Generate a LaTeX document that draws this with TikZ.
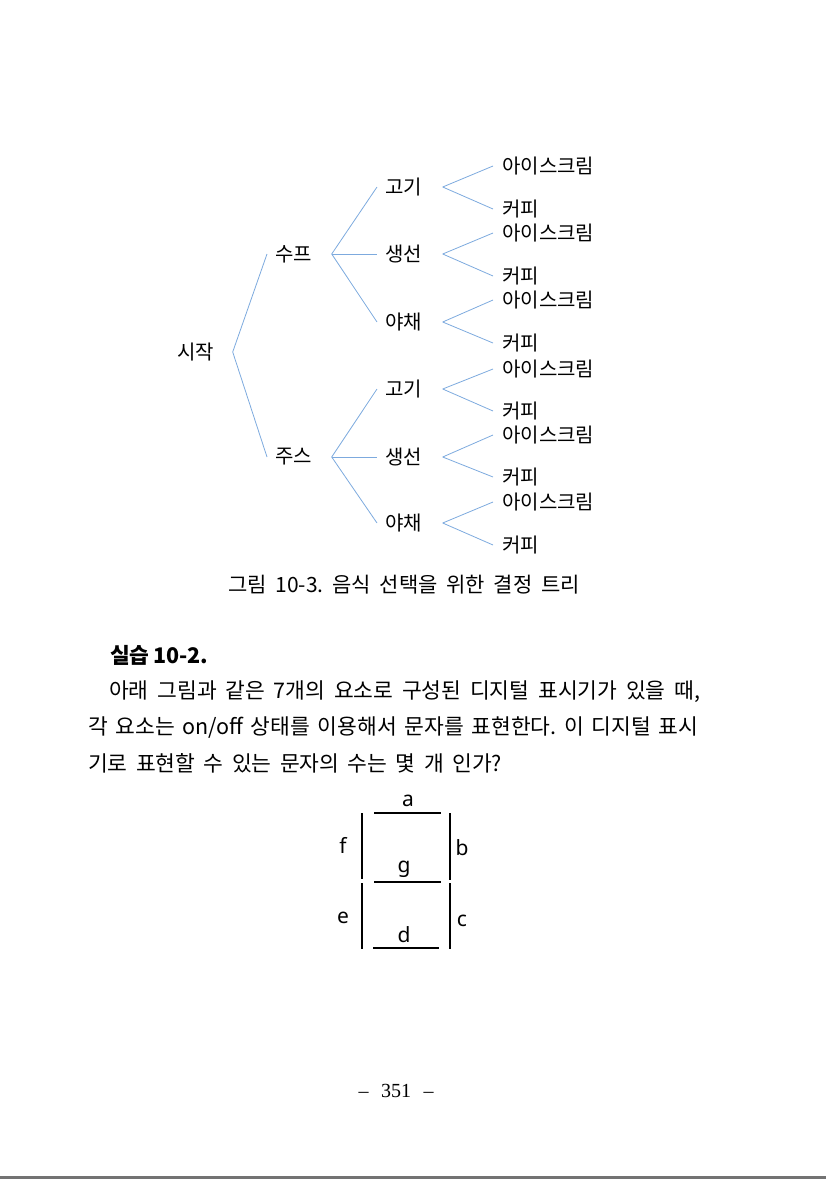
\documentclass[tikz,border=0pt]{standalone}
\usepackage{fontspec}
\setmainfont{Noto Sans CJK KR}
\newfontfamily\numfont{Liberation Serif}
\newfontfamily\segfont{Noto Sans}
\usetikzlibrary{positioning}
\definecolor{branch}{RGB}{125,170,222}
\frenchspacing

\begin{document}
\begin{tikzpicture}[x=1pt, y=-1pt,
    word/.style={inner sep=0pt, anchor=west, font=\fontsize{20}{24}\selectfont},
    twig/.style={draw=branch, line width=0.8pt},
    line/.style={inner sep=0pt, anchor=west, font=\fontsize{21.5}{26}\selectfont},
    seg/.style={line width=2.8pt},
    letter/.style={inner sep=0pt, anchor=base, font=\segfont\fontsize{21}{25}\selectfont}]
    \useasboundingbox (0,0) rectangle (826,1179);
    % Add the tree words
        \node[word] (start) at (177,352) {시작};
        \node[word] (soup) at (275,254) {수프};
        \node[word] (juice) at (275,457) {주스};
        \node[word] (m1) at (385,187) {고기};
        \node[word] (f1) at (385,254) {생선};
        \node[word] (v1) at (385,322) {야채};
        \node[word] (m2) at (385,389) {고기};
        \node[word] (f2) at (385,457) {생선};
        \node[word] (v2) at (385,523) {야채};
        \node[word] (im1) at (502,166) {아이스크림};
        \node[word] (cm1) at (502,209) {커피};
        \node[word] (if1) at (502,233) {아이스크림};
        \node[word] (cf1) at (502,276) {커피};
        \node[word] (iv1) at (502,300) {아이스크림};
        \node[word] (cv1) at (502,343) {커피};
        \node[word] (im2) at (502,369) {아이스크림};
        \node[word] (cm2) at (502,411) {커피};
        \node[word] (if2) at (502,435) {아이스크림};
        \node[word] (cf2) at (502,477) {커피};
        \node[word] (iv2) at (502,502) {아이스크림};
        \node[word] (cv2) at (502,545) {커피};

    % Add the branches
        \draw[twig] ([xshift=18.5pt]start.east) -- ([xshift=-8pt]soup.west);
        \draw[twig] ([xshift=18.5pt]start.east) -- ([xshift=-8pt]juice.west);
        \draw[twig] ([xshift=19.5pt]soup.east) -- ([xshift=-8pt]m1.west);
        \draw[twig] ([xshift=19.5pt]soup.east) -- ([xshift=-8pt]f1.west);
        \draw[twig] ([xshift=19.5pt]soup.east) -- ([xshift=-8pt]v1.west);
        \draw[twig] ([xshift=19.5pt]juice.east) -- ([xshift=-8pt]m2.west);
        \draw[twig] ([xshift=19.5pt]juice.east) -- ([xshift=-8pt]f2.west);
        \draw[twig] ([xshift=19.5pt]juice.east) -- ([xshift=-8pt]v2.west);
        \draw[twig] ([xshift=20.5pt]m1.east) -- ([xshift=-9pt]im1.west);
        \draw[twig] ([xshift=20.5pt]m1.east) -- ([xshift=-9pt]cm1.west);
        \draw[twig] ([xshift=20.5pt]f1.east) -- ([xshift=-9pt]if1.west);
        \draw[twig] ([xshift=20.5pt]f1.east) -- ([xshift=-9pt]cf1.west);
        \draw[twig] ([xshift=20.5pt]v1.east) -- ([xshift=-9pt]iv1.west);
        \draw[twig] ([xshift=20.5pt]v1.east) -- ([xshift=-9pt]cv1.west);
        \draw[twig] ([xshift=20.5pt]m2.east) -- ([xshift=-9pt]im2.west);
        \draw[twig] ([xshift=20.5pt]m2.east) -- ([xshift=-9pt]cm2.west);
        \draw[twig] ([xshift=20.5pt]f2.east) -- ([xshift=-9pt]if2.west);
        \draw[twig] ([xshift=20.5pt]f2.east) -- ([xshift=-9pt]cf2.west);
        \draw[twig] ([xshift=20.5pt]v2.east) -- ([xshift=-9pt]iv2.west);
        \draw[twig] ([xshift=20.5pt]v2.east) -- ([xshift=-9pt]cv2.west);

    % Caption and exercise text
        \node[inner sep=0pt, font=\fontsize{21}{26}\selectfont] (caption) at (404,585)
            {\makebox[352pt][s]{그림 10-3. 음식 선택을 위한 결정 트리}};
        \node[line] (head) at (110,655) {\bfseries\makebox[92pt][s]{실습 10-2.}};
        \node[line] (l1) at (109,692) {\makebox[591pt][s]{아래 그림과 같은 7개의 요소로 구성된 디지털 표시기가 있을 때,}};
        \node[line] (l2) at (88,728) {\makebox[610pt][s]{각 요소는 on/off 상태를 이용해서 문자를 표현한다. 이 디지털 표시}};
        \node[line] (l3) at (88,763) {\makebox[414pt][s]{기로 표현할 수 있는 문자의 수는 몇 개 인가?}};

    % Seven segments
        \draw[seg] (374,813) -- (441,813);
        \draw[seg] (450,813) -- (450,880);
        \draw[seg] (450,883) -- (450,949);
        \draw[seg] (373,948) -- (439,948);
        \draw[seg] (362,883) -- (362,949);
        \draw[seg] (362,813) -- (362,879);
        \draw[seg] (374,882) -- (441,882);
        \node[letter] (la) at (408,806) {a};
        \node[letter] (lb) at (462,855) {b};
        \node[letter] (lc) at (462,926) {c};
        \node[letter] (ld) at (404,942) {d};
        \node[letter] (le) at (343,923) {e};
        \node[letter] (lf) at (343,853) {f};
        \node[letter] (lg) at (404,872) {g};

    % Page number and bottom rule
        \node[inner sep=0pt, font=\numfont\fontsize{20}{24}\selectfont] (page) at (396,1091)
            {\makebox[75pt][s]{– 351 –}};
        \fill[black!55] (0,1176) rectangle (826,1179);
\end{tikzpicture}
\end{document}
